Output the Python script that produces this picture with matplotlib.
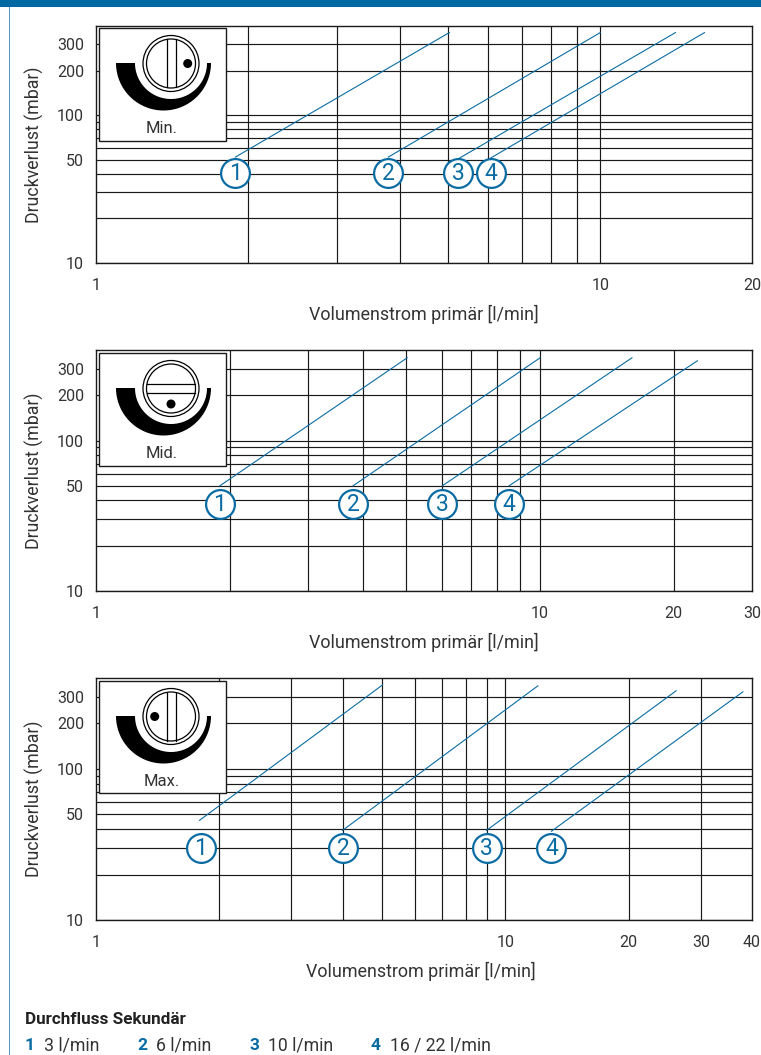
# Druckverlust diagrams for the three valve positions
import numpy as np
import matplotlib
matplotlib.use('Agg')
import matplotlib.pyplot as plt
from matplotlib.patches import Circle, Polygon, Rectangle

W, H = 761, 1055
BLUE = '#0a6ca3'
TXT = '#333333'
GRID = '#1a1a1a'

plt.rcParams['font.family'] = ['Roboto', 'DejaVu Sans']

# curve end points, one row per curve number: x start, x end, y start, y end
curve_ids = ['1', '2', '3', '4']

min_x0 = [1.89, 3.80, 5.25, 6.05]
min_x1 = [5.02, 10.0, 14.1, 16.1]
min_y0 = [52, 52, 51, 51]
min_y1 = [361, 361, 361, 361]
min_mark_x = [1.89, 3.8, 5.23, 6.06]
min_mark_y = 40.5

mid_x0 = [1.90, 3.79, 6.02, 8.51]
mid_x1 = [5.02, 10.0, 16.1, 22.6]
mid_y0 = [50, 50, 50, 50]
mid_y1 = [355, 355, 355, 339]
mid_mark_x = [1.9, 3.8, 6.02, 8.51]
mid_mark_y = 37.7

max_x0 = [1.79, 4.00, 8.99, 12.95]
max_x1 = [5.01, 12.0, 26.1, 38.0]
max_y0 = [45.7, 39.2, 39.2, 38.7]
max_y1 = [360, 355, 329, 324]
max_mark_x = [1.8, 4.02, 9.0, 12.95]
max_mark_y = 29.9

y_grid = [10, 20, 30, 40, 50, 60, 70, 80, 90, 100, 200, 300]
y_labels = [10, 50, 100, 200, 300]
x_grid = [2, 3, 4, 5, 6, 7, 8, 9, 10, 20, 30]

legend_nums = ['1', '2', '3', '4']
legend_vals = ['3 l/min', '6 l/min', '10 l/min', '16 / 22 l/min']


def px_rect(x0, y0, x1, y1):
    # pixel box (y from top) to figure fractions
    return [x0 / W, 1 - y1 / H, (x1 - x0) / W, (y1 - y0) / H]


def panel(fig, box, xmax, xticks, x0, x1, y0, y1, mark_x, mark_y, label_x=0.5):
    ax = fig.add_axes(px_rect(*box))
    ax.set_xscale('log')
    ax.set_yscale('log')
    ax.set_xlim(1, xmax)
    ax.set_ylim(10, 400)
    for v in y_grid:
        ax.axhline(v, color=GRID, lw=0.85, zorder=1)
    for v in x_grid:
        if v < xmax:
            ax.axvline(v, color=GRID, lw=0.85, zorder=1)
    ax.xaxis.set_minor_locator(matplotlib.ticker.NullLocator())
    ax.yaxis.set_minor_locator(matplotlib.ticker.NullLocator())
    ax.set_xticks(xticks, [str(t) for t in xticks])
    ax.set_yticks(y_labels, [str(t) for t in y_labels])
    ax.tick_params(length=0, labelsize=11.5, labelcolor=TXT)
    ax.tick_params(axis='x', pad=10.5)
    ax.tick_params(axis='y', pad=8.6)
    for s in ax.spines.values():
        s.set_linewidth(1.0)
        s.set_color(GRID)
    ax.set_xlabel('Volumenstrom primär [l/min]', fontsize=12.9, color=TXT, labelpad=9, x=label_x)
    ax.set_ylabel('Druckverlust (mbar)', fontsize=12.8, color=TXT, labelpad=9.5)
    for i, c in enumerate(curve_ids):
        ax.plot([x0[i], x1[i]], [y0[i], y1[i]], color=BLUE, lw=0.8, zorder=3)
        ax.scatter([mark_x[i]], [mark_y], s=430, facecolor='white', edgecolor=BLUE,
                   linewidth=1.6, zorder=4)
        ax.text(mark_x[i], mark_y, c, color=BLUE, fontsize=16.5, ha='center', va='center', zorder=5)
    return ax


def knob(fig, box, mode, label):
    # position dial drawn in pixel units of the inset box
    x0, y0, x1, y1 = box
    ax = fig.add_axes(px_rect(*box), zorder=6)
    ax.set_xlim(x0, x1)
    ax.set_ylim(y1, y0)
    ax.axis('off')
    ax.add_patch(Rectangle((x0, y0), x1 - x0, y1 - y0, fc='white', ec=GRID, lw=1.0, clip_on=False))
    cy = y0 + 35.5
    arc_y = cy - 0.5
    # black crescent
    t = np.linspace(0, np.pi, 80)
    outer = np.column_stack([163.5 + 47.5 * np.cos(t), arc_y + 47.5 * np.sin(t)])
    inner = np.column_stack([171 + 36 * np.cos(t[::-1]), arc_y + 36 * np.sin(t[::-1])])
    ax.add_patch(Polygon(np.vstack([outer, inner]), fc='black', ec='none'))
    # dial
    ax.add_patch(Circle((171, cy), 28, fc='white', ec='black', lw=0.9))
    ax.add_patch(Circle((171, cy), 24.5, fc='white', ec='black', lw=0.9))
    if mode == 'h':
        ax.plot([147, 195], [cy - 5, cy - 5], color='black', lw=0.9)
        ax.plot([147, 195], [cy + 4, cy + 4], color='black', lw=0.9)
        dot = (171, cy + 15.5)
    else:
        ax.plot([166.7, 166.7], [cy - 24, cy + 24], color='black', lw=0.9)
        ax.plot([175.7, 175.7], [cy - 24, cy + 24], color='black', lw=0.9)
        dot = (187.7, cy) if mode == 'r' else (154.7, cy)
    ax.add_patch(Circle(dot, 4.5, fc='black', ec='none'))
    ax.text(162, y0 + 100.5, label, color=TXT, fontsize=12, ha='center', va='center')


fig = plt.figure(figsize=(W / 100, H / 100), dpi=100)

# page decoration
fig.add_artist(Rectangle((0, 1 - 7 / H), 1, 7 / H, transform=fig.transFigure, fc='#0068a3', ec='none'))
fig.add_artist(Rectangle((9 / W, 0), 1.2 / W, 1 - 7 / H, transform=fig.transFigure, fc='#4f97c4', ec='none'))

panel(fig, (96, 26, 752, 263), 20, [1, 10, 20], min_x0, min_x1, min_y0, min_y1, min_mark_x, min_mark_y)
panel(fig, (96, 350, 752, 591), 30, [1, 10, 20, 30], mid_x0, mid_x1, mid_y0, mid_y1, mid_mark_x, mid_mark_y)
panel(fig, (96, 678, 752, 920), 40, [1, 10, 20, 30, 40], max_x0, max_x1, max_y0, max_y1, max_mark_x, max_mark_y,
      label_x=0.4947)

knob(fig, (99, 28, 226, 141), 'r', 'Min.')
knob(fig, (99, 353, 226, 466), 'h', 'Mid.')
knob(fig, (99, 681, 226, 793), 'l', 'Max.')

# legend below the charts
fig.text(25 / W, 1 - 1019 / H, 'Durchfluss Sekundär', fontsize=12.3, fontweight='bold',
         color='#222222', va='center')
num_px = [25, 137, 249, 371]
for px, n, v in zip(num_px, legend_nums, legend_vals):
    fig.text(px / W, 1 - 1045 / H, n, fontsize=12.5, fontweight='bold', color=BLUE, va='center')
    fig.text((px + 19) / W, 1 - 1045 / H, v, fontsize=12.7, color=TXT, va='center')

fig.savefig('out.png', dpi=100)
